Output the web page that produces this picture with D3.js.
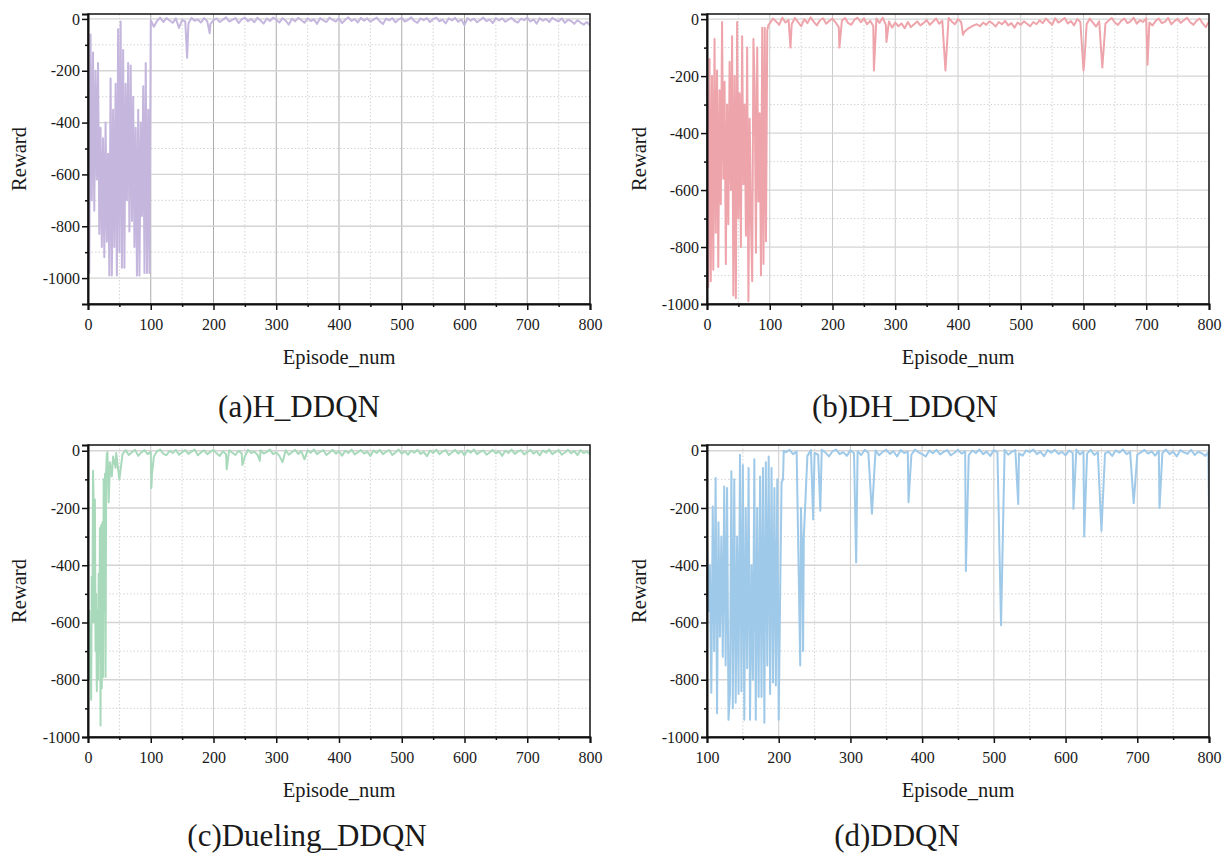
<!DOCTYPE html>
<html><head><meta charset="utf-8">
<script src="https://cdn.jsdelivr.net/npm/d3@7"></script>
<style>
body{margin:0;background:#fff}
svg{display:block}
text{font-family:"Liberation Serif","Times New Roman",serif;fill:#1a1a1a}
</style>
</head><body>
<svg id="chart" width="1224" height="855"></svg>
<script>
// ---------- tick labels ----------
const yTickLabels = [-1000, -800, -600, -400, -200, 0];
const yMinorTicks = [-1100, -900, -700, -500, -300, -100];
const xTicksFrom0 = [0, 100, 200, 300, 400, 500, 600, 700, 800];
const xTicksFrom100 = [100, 200, 300, 400, 500, 600, 700, 800];
const xMinorTicks = [50, 150, 250, 350, 450, 550, 650, 750];
const captions = ["(a)H_DDQN", "(b)DH_DDQN", "(c)Dueling_DDQN", "(d)DDQN"];
const xTitle = "Episode_num";
const yTitle = "Reward";

// ---------- (a) H_DDQN : episodes 0..98, every 2 ----------
const hChaos = [-700,-980,-60,-700,-130,-740,-200,-620,-170,-830,
-420,-880,-460,-920,-400,-860,-520,-990,-230,-990,
-350,-880,-250,-990,-40,-900,-10,-960,-120,-960,
-250,-700,-170,-820,-180,-780,-300,-880,-420,-990,
-350,-990,-400,-760,-260,-980,-170,-980,-350,-980];
// episodes 100..800, every 5
const hStable = [-5,-30,-8,5,-12,3,-6,-15,2,-35,-4,-10,-18,4,-7,-2,-14,3,-9,-20,
-5,2,-12,-3,6,-10,-4,3,-16,-2,5,-9,0,-13,4,-6,-18,2,-8,5,
-3,-14,3,-7,-22,1,-9,4,-5,-15,2,-8,-2,-19,3,-6,-12,5,-4,-10,
2,-16,-3,6,-8,-1,-14,4,-7,2,-11,-3,5,-9,-20,1,-6,3,-13,-2,
4,-10,-4,6,-8,-15,2,-5,3,-12,-1,5,-9,-3,-17,2,-6,4,-11,-2,
-24,3,-7,1,-13,-4,5,-9,-2,-16,3,-6,2,-11,-3,4,-8,-14,1,-5,
5,-10,-2,-18,3,-7,0,-12,4,-4,-9,2,-15,-3,-8,-19,-5,-14,-22,-12,-25];
const hDips = [[158,-150],[194,-55]];

// ---------- (b) DH_DDQN : episodes 0..98, every 2 ----------
const dhChaos = [-220,-940,-140,-920,-200,-880,-70,-750,-180,-870,
-250,-650,-10,-560,-220,-860,-300,-720,-150,-600,
-60,-970,-200,-980,-10,-700,-260,-800,-60,-580,
-300,-760,-100,-990,-350,-700,-920,-70,-240,-820,
-100,-640,-330,-900,-30,-860,-30,-780,-40,-20];
const dhStable = [-15,2,-8,-20,5,-12,-3,-18,4,-10,-25,0,-14,6,-9,-22,-4,3,-16,-6,
2,-12,-28,-5,4,-14,-20,-2,5,-11,3,-18,-6,-24,2,-13,5,-20,-8,-30,
-12,-25,-15,-32,-10,-28,-18,-8,-22,-14,-3,-20,-9,2,-16,-6,-12,4,-8,-18,
0,-10,-45,-35,-28,-22,-18,-25,-12,-20,-8,-15,-26,-10,-18,-6,-22,-14,-30,-12,
-20,-8,-16,-25,-10,-18,-4,-14,2,-9,-20,3,-12,-5,4,-15,-7,-22,0,-10,
-4,-18,2,-12,-26,-8,3,-15,-5,4,-12,-20,-6,2,-14,-8,5,-16,-4,-10,
3,-12,-22,-6,2,-14,-9,4,-18,-7,1,-13,-4,5,-11,-20,-6,2,-15,-28,-8];
const dhDips = [[133,-100],[211,-100],[266,-180],[286,-80],[380,-180],[408,-55],[600,-180],[601,-160],[630,-170],[702,-160]];

// ---------- (c) Dueling_DDQN : episodes 0..31 ----------
const duelChaos = [-500,-700,-560,-800,-620,-870,-440,-600,-70,-180,-600,-170,-700,-500,-840,-560,-800,-430,-700,-270,
-960,-260,-830,-250,-790,-100,-560,-80,-790,-70,-10,-5];
// episodes 35..800, every 5
const duelStable = [-40,-20,-8,-30,-12,2,-15,-5,3,-18,-6,2,-12,-4,-20,-2,4,-10,-16,0,
-8,3,-14,-5,2,-11,-3,4,-16,-6,1,-12,-4,3,-9,-18,-2,-12,2,-7,
-15,0,-10,-20,3,-8,-3,-14,2,-10,-4,4,-12,-6,-18,-9,2,-14,-5,3,
-11,-2,-16,1,-7,4,-12,-4,2,-15,-6,3,-10,-2,-17,0,-8,4,-13,-5,
2,-10,-3,-18,1,-8,3,-12,-4,2,-15,-6,4,-10,-2,-14,0,-7,3,-11,
-4,-19,1,-8,4,-12,-3,2,-15,-6,3,-10,-1,-16,2,-7,4,-12,-4,1,
-14,-6,3,-9,-2,-18,0,-8,4,-11,-3,2,-13,-5,3,-10,-2,-16,1,-7,
4,-12,-4,2,-14,-6,3,-9,-1,-15,2,-8,-3,-12];
const duelDips = [[33,-180],[38,-90],[44,-60],[50,-100],[101,-130],[102,-80],[221,-65],[246,-50],[274,-35],[310,-40],[345,-30]];

// ---------- (d) DDQN : episodes 100..204, every 2 ----------
const dqnChaos = [-300,-560,-400,-845,-195,-700,-95,-917,-250,-650,
-300,-720,-125,-750,-130,-940,-850,-72,-900,-100,
-880,-300,-850,-14,-840,-50,-940,-200,-760,-60,
-940,-400,-800,-30,-940,-200,-860,-90,-860,-60,
-950,-40,-750,-20,-850,-60,-810,-130,-820,-100,
-940,-500,-110];
// episodes 210..800, every 5
const dqnStable = [-5,3,-12,-3,4,-10,-18,2,-8,-14,3,-6,-20,-2,4,-12,-5,-18,2,-9,
-3,-15,3,-7,-12,1,-16,-4,3,-11,-2,-20,2,-8,-3,-14,4,-6,-12,-20,
1,-9,3,-13,-4,2,-16,-7,3,-10,-2,-15,1,-8,4,-12,-3,-18,2,-6,
-10,3,-14,-4,2,-9,-17,1,-5,4,-12,-3,-19,2,-7,3,-11,-4,-16,1,
-8,4,-13,-2,-10,3,-15,-5,2,-9,-3,-18,1,-7,4,-12,-4,2,-14,-6,
3,-10,-2,-17,0,-8,4,-12,-3,-20,2,-6,-11,3,-15,-4,-9,-18,-200];
const dqnDips = [[206,-100],[207,0],[229,-600],[230,-750],[231,-200],[233,-400],[234,-700],[235,-300],[248,-240],[258,-210],
[308,-390],[330,-220],[381,-180],[461,-420],[510,-610],[534,-186],[611,-203],[626,-300],[650,-280],[695,-183],[731,-200],[799,-5]];

function buildSeries(chaosStart, chaosStep, chaos, stableStart, stable, dips) {
  const pts = [];
  chaos.forEach((v, i) => pts.push([chaosStart + i * chaosStep, v]));
  const dipX = new Set(dips.map(d => d[0]));
  stable.forEach((v, i) => { const e = stableStart + i * 5; if (!dipX.has(e)) pts.push([e, v]); });
  dips.forEach(d => pts.push(d));
  pts.sort((a, b) => a[0] - b[0]);
  return pts;
}

const panels = [
  { data: buildSeries(0, 2, hChaos, 100, hStable, hDips), color: "#c4b6dd",
    L: 88, R: 590, T: 14, B: 304, xDom: [0, 800], yDom: [-1100, 19], xTicks: xTicksFrom0,
    cap: captions[0], capX: 299, capDy: 113, vGrid: "#a2a2a2", offX: 0 },
  { data: buildSeries(0, 2, dhChaos, 100, dhStable, dhDips), color: "#eea4ab",
    L: 707, R: 1209, T: 14, B: 304, xDom: [0, 800], yDom: [-1000, 18], xTicks: xTicksFrom0,
    cap: captions[1], capX: 905, capDy: 113, vGrid: "#c6c6c6", offX: 620 },
  { data: buildSeries(0, 1, duelChaos, 35, duelStable, duelDips), color: "#a9d9bb",
    L: 88, R: 590, T: 445, B: 737, xDom: [0, 800], yDom: [-1000, 20], xTicks: xTicksFrom0,
    cap: captions[2], capX: 307, capDy: 109, vGrid: "#c6c6c6", offX: 0 },
  { data: buildSeries(100, 2, dqnChaos, 210, dqnStable, dqnDips), color: "#9fc9e8",
    L: 707, R: 1209, T: 445, B: 737, xDom: [100, 800], yDom: [-1000, 20], xTicks: xTicksFrom100,
    cap: captions[3], capX: 897, capDy: 109, vGrid: "#c6c6c6", offX: 620 }
];

const svg = d3.select("#chart");
const serif = "'Liberation Serif', 'Times New Roman', serif";

panels.forEach((p, k) => {
  const x = d3.scaleLinear().domain(p.xDom).range([p.L, p.R]);
  const y = d3.scaleLinear().domain(p.yDom).range([p.B, p.T]);
  const g = svg.append("g");

  const xm = xMinorTicks.filter(v => v > p.xDom[0] && v < p.xDom[1]);
  const ym = yMinorTicks.filter(v => v > p.yDom[0] && v < p.yDom[1]);
  g.selectAll(".vmg").data(xm).join("line")
    .attr("x1", d => x(d)).attr("x2", d => x(d)).attr("y1", p.T).attr("y2", p.B)
    .attr("stroke", "#cfcfcf").attr("stroke-width", 0.9).attr("stroke-dasharray", "1.5,2");
  g.selectAll(".hmg").data(ym).join("line")
    .attr("x1", p.L).attr("x2", p.R).attr("y1", d => y(d)).attr("y2", d => y(d))
    .attr("stroke", "#cfcfcf").attr("stroke-width", 0.9).attr("stroke-dasharray", "1.5,2");
  g.selectAll(".vg").data(p.xTicks.filter(v => v > p.xDom[0] && v < p.xDom[1])).join("line")
    .attr("x1", d => x(d)).attr("x2", d => x(d)).attr("y1", p.T).attr("y2", p.B)
    .attr("stroke", p.vGrid).attr("stroke-width", 0.9);
  g.selectAll(".hg").data(yTickLabels.filter(v => v > p.yDom[0])).join("line")
    .attr("x1", p.L).attr("x2", p.R).attr("y1", d => y(d)).attr("y2", d => y(d))
    .attr("stroke", "#d4d4d4").attr("stroke-width", 1.3);

  const cid = "clip" + k;
  svg.append("clipPath").attr("id", cid).append("rect")
    .attr("x", p.L).attr("y", p.T).attr("width", p.R - p.L).attr("height", p.B - p.T);
  g.append("path").datum(p.data)
    .attr("clip-path", `url(#${cid})`)
    .attr("fill", "none").attr("stroke", p.color).attr("stroke-width", 2)
    .attr("stroke-linejoin", "round")
    .attr("d", d3.line().x(d => x(d[0])).y(d => y(d[1])));

  g.append("rect").attr("x", p.L).attr("y", p.T).attr("width", p.R - p.L).attr("height", p.B - p.T)
    .attr("fill", "none").attr("stroke", "#111").attr("stroke-width", 1.5);

  const ax = g.append("g").attr("transform", `translate(0,${p.B})`)
    .call(d3.axisBottom(x).tickValues(p.xTicks).tickSize(6).tickPadding(9).tickFormat(d => String(d)));
  const axm = g.append("g").attr("transform", `translate(0,${p.B})`)
    .call(d3.axisBottom(x).tickValues(xm).tickSize(3).tickFormat(""));
  const ay = g.append("g").attr("transform", `translate(${p.L},0)`)
    .call(d3.axisLeft(y).tickValues(yTickLabels).tickSize(6).tickPadding(2).tickFormat(d => String(d)));
  const aym = g.append("g").attr("transform", `translate(${p.L},0)`)
    .call(d3.axisLeft(y).tickValues(ym).tickSize(3).tickFormat(""));
  [ax, axm, ay, aym].forEach(a => {
    a.attr("font-family", null);
    a.select(".domain").attr("stroke", "#111").attr("stroke-width", 2);
    a.selectAll(".tick line").attr("stroke", "#111").attr("stroke-width", 1.5);
    a.selectAll(".tick text").attr("font-size", 16).attr("fill", "#1a1a1a");
  });
  [axm, aym].forEach(a => a.select(".domain").remove());

  g.append("text").attr("x", (p.L + p.R) / 2).attr("y", p.B + 60)
    .attr("text-anchor", "middle").attr("font-size", 20.5).text(xTitle);
  g.append("text").attr("transform", `translate(${p.offX + 26},${(p.T + p.B) / 2}) rotate(-90)`)
    .attr("text-anchor", "middle").attr("font-size", 20.5).text(yTitle);
  g.append("text").attr("x", p.capX).attr("y", p.B + p.capDy)
    .attr("text-anchor", "middle").attr("font-size", 31).text(p.cap);
});
svg.selectAll("text").style("font-family", serif);
</script>
</body></html>
